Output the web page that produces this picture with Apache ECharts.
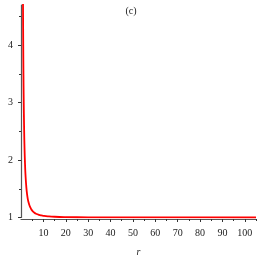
<!DOCTYPE html>
<html>
<head>
<meta charset="utf-8">
<script src="https://cdn.jsdelivr.net/npm/echarts@6/dist/echarts.min.js"></script>
<style>html,body{margin:0;padding:0;background:#fff}#c{width:262px;height:262px}</style>
</head>
<body>
<div id="c"></div>
<script>
const rValues = [0.88, 0.9, 1.0, 1.1, 1.2, 1.4, 1.6, 1.8, 2.0, 2.4, 2.8, 3.2, 3.8, 4.5, 5, 6, 7, 8, 9, 10, 12, 15, 20, 30, 40, 60, 80, 105];
const fValues = [4.87, 4.7, 4.0, 3.48, 3.08, 2.53, 2.17, 1.93, 1.75, 1.52, 1.38, 1.29, 1.21, 1.15, 1.12, 1.083, 1.061, 1.047, 1.037, 1.030, 1.021, 1.013, 1.0075, 1.0033, 1.002, 1.001, 1.0005, 1.0003];
const xLabelValues = [10, 20, 30, 40, 50, 60, 70, 80, 90, 100];
const xMinorValues = [5, 15, 25, 35, 45, 55, 65, 75, 85, 95, 105];
const yLabelValues = [1, 2, 3, 4];
const yMinorValues = [1.5, 2.5, 3.5, 4.5];
const titleText = '(c)';
const xName = 'r';

const font = 'Liberation Serif';
const axisColor = '#555';
const chart = echarts.init(document.getElementById('c'), null, {renderer: 'canvas'});
const xBase = {type: 'value', min: 0, max: 105, position: 'bottom', offset: 1.5, splitLine: {show: false}};
const yBase = {type: 'value', min: 1, max: 4.7, position: 'left', splitLine: {show: false}};
chart.setOption({
  animation: false,
  title: {text: titleText, left: 'center', top: 1, textStyle: {fontFamily: font, fontSize: 10, fontWeight: 'normal', color: '#222'}},
  grid: {left: 21, right: 6, top: 5, bottom: 38.5, containLabel: false},
  xAxis: [
    Object.assign({}, xBase, {
      name: xName, nameLocation: 'middle', nameGap: 28,
      nameTextStyle: {fontFamily: font, fontSize: 10, fontStyle: 'italic', color: '#222'},
      axisLine: {show: true, onZero: false, lineStyle: {color: axisColor, width: 1.2}},
      axisTick: {show: true, length: 3, customValues: xLabelValues, lineStyle: {color: '#333'}},
      axisLabel: {show: true, customValues: xLabelValues, margin: 9, fontFamily: font, fontSize: 10, color: '#222'}
    }),
    Object.assign({}, xBase, {
      axisLine: {show: false},
      axisTick: {show: true, length: 2, customValues: xMinorValues, lineStyle: {color: '#333'}},
      axisLabel: {show: false}
    })
  ],
  yAxis: [
    Object.assign({}, yBase, {
      axisLine: {show: true, onZero: false, lineStyle: {color: axisColor, width: 1.2}},
      axisTick: {show: true, length: 3, customValues: yLabelValues, lineStyle: {color: '#333'}},
      axisLabel: {show: true, customValues: yLabelValues, margin: 8, fontFamily: font, fontSize: 10, color: '#222'}
    }),
    Object.assign({}, yBase, {
      axisLine: {show: false},
      axisTick: {show: true, length: 2, customValues: yMinorValues, lineStyle: {color: '#333'}},
      axisLabel: {show: false}
    })
  ],
  series: [{
    type: 'line', xAxisIndex: 0, yAxisIndex: 0, smooth: true, showSymbol: false, clip: true,
    lineStyle: {color: '#ff0000', width: 1.8},
    data: rValues.map((r, i) => [r, fValues[i]])
  }]
});
</script>
</body>
</html>
